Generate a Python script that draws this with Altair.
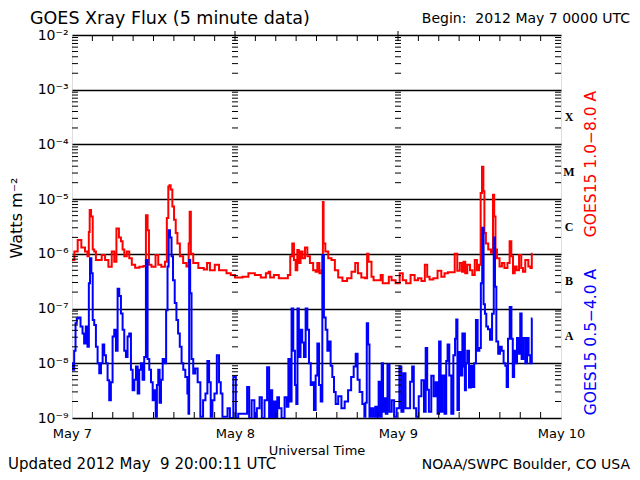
import json
import altair as alt
import pandas as pd

# ---------------- data ----------------
red_hours = [0.0, 0.1, 0.6, 1.08, 1.67, 2.16, 2.4, 2.55, 2.66, 2.95, 3.15, 3.4, 3.64, 4.13, 4.62, 5.12, 5.6, 6.1, 6.34, 6.74,
             7.08, 7.33, 7.57, 7.82, 8.3, 8.56, 9.05, 9.54, 10.28, 10.77, 11.0, 11.26, 11.4, 12.0, 12.6, 12.8, 13.5, 13.87, 14.06, 14.3,
             14.4, 14.65, 14.9, 15.15, 15.4, 15.64, 16.13, 16.6, 17.1, 17.25, 17.4, 17.6, 18.1, 19.1, 19.7, 20.07, 20.55, 21.5, 21.8, 22.5,
             23.0, 23.76, 24.25, 24.7, 25.5, 26.45, 27.4, 28.2, 28.9, 29.0, 29.36, 30.1, 30.8, 31.6, 31.97, 32.3, 32.56, 32.8, 33.05, 33.3,
             33.5, 33.8, 34.1, 34.5, 34.8, 35.26, 35.75, 36.0, 36.25, 36.6, 36.9, 36.98, 37.1, 37.5, 37.96, 38.46, 38.95, 39.44, 40.2, 40.8,
             41.5, 41.9, 42.3, 42.9, 43.4, 43.5, 43.8, 44.0, 44.2, 44.6, 45.3, 45.6, 45.9, 46.5, 46.8, 47.3, 48.0, 48.5, 48.9, 49.5,
             50.2, 50.7, 51.2, 51.7, 52.2, 52.4, 52.9, 53.5, 54.15, 54.6, 55.1, 55.6, 56.1, 56.6, 56.85, 57.35, 57.5, 57.8, 58.0, 58.4,
             58.8, 59.1, 59.5, 59.75, 60.1, 60.24, 60.5, 60.64, 60.8, 61.08, 61.5, 61.9, 62.07, 62.26, 62.45, 62.7, 63.2, 63.4, 63.93, 64.3,
             64.57, 64.8, 65.07, 65.3, 65.65, 66.0, 66.3, 66.5, 66.98, 67.4, 67.6, 67.8]
red_flux = [7.7e-7, 7.7e-7, 1.1e-6, 1.8e-6, 1.3e-6, 1.1e-6, 9e-7, 2.5e-6, 6.3e-6, 4.8e-6, 1.2e-6, 1.1e-6, 7.7e-7, 7.7e-7, 9.5e-7, 7.7e-7, 5.8e-7, 1.1e-6, 7.2e-7, 2.9e-6,
            2.0e-6, 1.7e-6, 1.2e-6, 9e-7, 1.1e-6, 8.3e-7, 6.3e-7, 5.6e-7, 5.8e-7, 6.0e-7, 5.1e-6, 2.7e-6, 6.3e-7, 5.8e-7, 9.5e-7, 6.3e-7, 5.8e-7, 7.2e-7, 4.5e-6, 1.7e-5,
            1.8e-5, 1.5e-5, 7.3e-6, 4.2e-6, 2.4e-6, 1.55e-6, 9e-7, 6.8e-7, 5.9e-7, 1.55e-6, 5.9e-6, 1.0e-6, 6.8e-7, 5.5e-7, 5.2e-7, 6.8e-7, 5.0e-7, 6.3e-7, 5.0e-7, 5.0e-7,
            4.4e-7, 4.1e-7, 3.7e-7, 3.7e-7, 3.8e-7, 4.4e-7, 4.1e-7, 3.7e-7, 4.4e-7, 4.7e-7, 3.7e-7, 4.1e-7, 3.6e-7, 3.6e-7, 4.1e-7, 9e-7, 1.55e-6, 7.7e-7, 5.0e-7, 1.18e-6,
            6.8e-7, 1.1e-6, 8.3e-7, 1.3e-6, 9e-7, 6.8e-7, 5.0e-7, 4.7e-7, 6.8e-7, 4.4e-7, 5.0e-7, 8.9e-6, 1.55e-6, 1.1e-6, 8.3e-7, 7.7e-7, 5.0e-7, 3.7e-7, 3.2e-7, 3.6e-7,
            4.7e-7, 6.8e-7, 4.4e-7, 3.7e-7, 3.6e-7, 1.0e-6, 7.2e-7, 7.2e-7, 3.8e-7, 3.3e-7, 3.3e-7, 4.1e-7, 2.9e-7, 2.9e-7, 3.8e-7, 3.3e-7, 2.9e-7, 4.4e-7, 3.3e-7, 2.9e-7,
            4.1e-7, 3.3e-7, 3.6e-7, 3.2e-7, 6.3e-7, 3.8e-7, 3.4e-7, 3.6e-7, 4.9e-7, 3.8e-7, 4.4e-7, 4.6e-7, 4.6e-7, 1.0e-6, 4.9e-7, 6.8e-7, 4.7e-7, 7.2e-7, 4.4e-7, 6.3e-7,
            5.0e-7, 4.1e-7, 7.7e-7, 5.0e-7, 6.3e-7, 1.3e-5, 3.9e-5, 1.4e-5, 2.4e-6, 1.55e-6, 1.2e-6, 1.05e-6, 1.2e-5, 4.8e-6, 1.2e-6, 8.3e-7, 5.9e-7, 6.8e-7, 5.5e-7, 6.8e-7,
            1.7e-6, 9e-7, 4.4e-7, 5.9e-7, 5.0e-7, 9.5e-7, 5.5e-7, 4.7e-7, 7.7e-7, 5.9e-7, 5.5e-7, 1.0e-6]

blue_hours = [0.0, 0.2, 0.44, 0.6, 0.8, 1.08, 1.43, 1.67, 1.9, 2.16, 2.4, 2.56, 2.75, 2.95, 3.15, 3.4, 3.64, 3.9, 4.13, 4.4,
              4.62, 4.87, 5.12, 5.36, 5.6, 5.85, 6.1, 6.34, 6.6, 6.83, 7.08, 7.33, 7.57, 7.82, 8.06, 8.3, 8.56, 8.8, 9.05, 9.3,
              9.54, 9.8, 10.0, 10.28, 10.5, 10.77, 11.0, 11.26, 11.5, 11.76, 12.0, 12.25, 12.4, 12.6, 12.8, 13.0, 13.2, 13.5, 13.75, 13.97,
              14.16, 14.3, 14.56, 14.75, 15.0, 15.25, 15.5, 15.74, 16.0, 16.27, 16.5, 16.87, 17.1, 17.2, 17.3, 17.5, 17.7, 18.0, 18.3, 18.7,
              19.1, 19.5, 19.8, 20.07, 20.3, 20.55, 20.8, 21.15, 21.5, 21.8, 22.0, 22.3, 22.8, 23.0, 23.5, 24.0, 24.25, 24.7, 25.2, 25.6,
              25.97, 26.2, 26.7, 27.0, 27.44, 27.8, 28.1, 28.6, 28.85, 29.2, 29.36, 29.6, 29.85, 30.1, 30.35, 30.6, 31.1, 31.5, 31.75, 31.97,
              32.2, 32.46, 32.7, 32.95, 33.1, 33.3, 33.5, 33.8, 34.0, 34.3, 34.5, 34.8, 35.0, 35.3, 35.5, 35.75, 36.0, 36.25, 36.5, 36.74,
              36.98, 37.2, 37.5, 37.7, 37.96, 38.2, 38.46, 38.7, 38.95, 39.44, 39.9, 40.4, 40.9, 41.3, 41.65, 41.9, 42.2, 42.5, 43.0, 43.1,
              43.3, 43.5, 43.7, 43.9, 44.2, 44.5, 44.8, 45.0, 45.3, 45.5, 45.7, 45.9, 46.1, 46.3, 46.6, 46.9, 47.25, 47.6, 48.0, 48.4,
              48.6, 49.0, 49.2, 49.6, 49.97, 50.2, 50.45, 50.9, 51.2, 51.7, 51.95, 52.2, 52.4, 52.7, 53.1, 53.4, 53.7, 53.95, 54.15, 54.4,
              54.7, 55.0, 55.2, 55.4, 55.7, 56.0, 56.3, 56.5, 56.65, 56.85, 57.1, 57.35, 57.6, 57.7, 57.8, 57.9, 58.1, 58.3, 58.6, 58.9,
              59.1, 59.35, 59.6, 59.85, 60.1, 60.3, 60.5, 60.7, 60.9, 61.1, 61.4, 61.7, 62.0, 62.2, 62.36, 62.6, 62.9, 63.15, 63.4, 63.7,
              63.9, 64.1, 64.3, 64.6, 64.8, 65.0, 65.2, 65.4, 65.65, 65.9, 66.1, 66.3, 66.6, 66.9, 67.1, 67.35, 67.6, 67.8]
blue_flux = [1.0e-8, 7.6e-9, 1.7e-8, 5.4e-8, 6.6e-8, 6.9e-8, 4.7e-8, 3.5e-8, 2.3e-8, 4.7e-8, 2.0e-8, 2.9e-7, 8.3e-7, 4.4e-7, 6.2e-8, 5.0e-8, 2.0e-8, 1.0e-8, 6.6e-9, 1.0e-8,
             2.2e-8, 1.4e-8, 1.0e-8, 4.9e-9, 2.1e-9, 4.5e-9, 3.1e-8, 4.1e-8, 1.7e-8, 2.3e-7, 1.7e-7, 8.1e-8, 4.1e-8, 1.7e-8, 1.3e-8, 3.1e-8, 3.5e-8, 7.6e-9, 3.2e-9, 5.0e-9,
             8.7e-9, 2.8e-9, 7.6e-9, 1.0e-8, 5.0e-9, 1.3e-8, 7.7e-7, 1.2e-8, 7.6e-9, 4.5e-9, 2.1e-9, 3.2e-9, 1.05e-9, 4.0e-9, 7.6e-9, 1.9e-9, 5.0e-9, 1.2e-8, 1.0e-8, 9.3e-8,
             5.9e-7, 2.7e-6, 2.0e-6, 9e-7, 3.3e-7, 1.26e-7, 6.2e-8, 3.5e-8, 2.0e-8, 1.0e-8, 7.6e-9, 5.6e-9, 2.8e-9, 1.2e-9, 7.7e-7, 1.9e-7, 1.2e-8, 6.5e-9, 8.0e-9, 4.5e-9,
             1.05e-9, 2.1e-9, 2.8e-9, 1.1e-8, 4.5e-9, 1.05e-9, 2.1e-9, 2.8e-9, 1.4e-8, 4.5e-9, 2.8e-9, 1.05e-9, 1.05e-9, 1.5e-9, 1.0e-9, 5.6e-9, 1.0e-9, 1.2e-9, 1.2e-9, 1.2e-9,
             3.7e-9, 1.0e-9, 2.1e-9, 1.0e-9, 1.5e-9, 2.4e-9, 1.0e-9, 2.1e-9, 8.5e-9, 1.0e-9, 3.2e-9, 1.0e-9, 2.0e-9, 1.0e-9, 2.4e-9, 1.5e-9, 1.0e-9, 2.4e-9, 1.6e-9, 1.2e-8,
             2.0e-9, 1.0e-7, 1.7e-8, 4.0e-9, 1.8e-9, 1.0e-7, 1.3e-8, 4.1e-8, 2.4e-8, 1.3e-8, 1.0e-7, 4.1e-8, 1.0e-8, 4.0e-9, 4.5e-9, 1.4e-9, 6.0e-9, 2.3e-8, 4.0e-9, 2.0e-9,
             9.5e-7, 6.9e-8, 4.1e-8, 1.7e-8, 2.5e-8, 9.0e-9, 5.6e-9, 3.0e-9, 1.8e-9, 2.5e-9, 1.5e-9, 2.0e-9, 3.2e-9, 5.6e-9, 8.7e-9, 1.5e-8, 5.0e-9, 3.0e-9, 1.8e-9, 1.05e-9,
             1.9e-9, 5.4e-8, 2.2e-8, 1.05e-9, 1.5e-9, 1.05e-9, 1.6e-9, 1.05e-9, 4.6e-9, 1.05e-9, 1.0e-8, 1.3e-9, 2.3e-9, 1.2e-9, 9.5e-9, 1.3e-9, 2.1e-9, 1.05e-9, 1.5e-9, 8.7e-9,
             1.3e-9, 6.6e-9, 1.5e-9, 1.5e-9, 4.6e-9, 8.7e-9, 1.5e-9, 1.05e-9, 2.5e-9, 4.9e-9, 1.3e-9, 1.9e-8, 3.3e-9, 1.3e-9, 5.9e-9, 2.5e-9, 4.5e-9, 1.2e-9, 2.5e-8, 1.3e-9,
             6.0e-9, 1.2e-9, 1.1e-8, 2.2e-8, 6.0e-9, 1.2e-9, 1.4e-8, 2.8e-8, 6.3e-8, 1.4e-9, 1.6e-8, 6.0e-9, 3.5e-8, 8.7e-9, 3.5e-8, 3.2e-9, 1.0e-8, 1.7e-8, 3.6e-9, 9.0e-9,
             3.7e-9, 1.0e-8, 6.2e-8, 1.7e-8, 1.9e-8, 2.9e-7, 3.0e-6, 1.2e-7, 8.0e-8, 4.7e-8, 4.2e-8, 2.7e-8, 8.0e-8, 2.0e-6, 2.5e-7, 2.5e-8, 1.5e-8, 2.0e-8, 1.7e-8, 1.0e-8,
             9.0e-9, 3.7e-9, 2.8e-8, 1.07e-7, 2.8e-8, 5.6e-9, 1.7e-8, 1.0e-8, 2.9e-8, 1.5e-8, 8.1e-8, 1.2e-8, 2.9e-8, 1.0e-8, 2.9e-8, 1.4e-8, 1.0e-8, 6.6e-8]

day_labels = ["May 7", "May 8", "May 9", "May 10"]
day_hours = [0, 24, 48, 72]
decade_labels = ["10\u207b\u2079", "10\u207b\u2078", "10\u207b\u2077", "10\u207b\u2076",
                 "10\u207b\u2075", "10\u207b\u2074", "10\u207b\u00b3", "10\u207b\u00b2"]
decade_values = [1e-9, 1e-8, 1e-7, 1e-6, 1e-5, 1e-4, 1e-3, 1e-2]
class_letters = ["A", "B", "C", "M", "X"]
class_positions = [10 ** -7.5, 10 ** -6.5, 10 ** -5.5, 10 ** -4.5, 10 ** -3.5]

NB = "\u00a0"
title_text = "GOES Xray Flux (5 minute data)"
begin_text = "Begin:" + NB + NB + "2012 May 7 0000 UTC"
updated_text = "Updated 2012 May" + NB + NB + "9 20:00:11 UTC"
credit_text = "NOAA/SWPC Boulder, CO USA"
long_label = "GOES15 1.0\u22128.0 A"
short_label = "GOES15 0.5\u22124.0 A"
RED = "#ff0000"
BLUE = "#0000ff"
FONT = "DejaVu Sans"

# ---------------- frames ----------------
red_df = pd.DataFrame({"h": red_hours, "f": red_flux})
blue_df = pd.DataFrame({"h": blue_hours, "f": blue_flux})

minor_vals = [k * d for d in decade_values[:-1] for k in range(2, 10)]
left_ticks = pd.DataFrame({"h": [0] * len(minor_vals), "f": minor_vals})
right_ticks = pd.DataFrame({"h": [72] * len(minor_vals), "f": minor_vals})
mid_ticks = pd.DataFrame({"h": [24] * len(minor_vals) + [48] * len(minor_vals), "f": minor_vals * 2})
hour_marks = list(range(3, 72, 3))
top_ticks = pd.DataFrame({"h": hour_marks, "f": [1e-2] * len(hour_marks)})
bot_ticks = pd.DataFrame({"h": hour_marks, "f": [1e-9] * len(hour_marks)})
day_top = pd.DataFrame({"h": day_hours[1:3], "f": [1e-2, 1e-2]})
class_df = pd.DataFrame({"c": class_letters, "f": class_positions})

xscale = alt.Scale(domain=[0, 72], nice=False, zero=False)
yscale = alt.Scale(type="log", domain=[1e-9, 1e-2], nice=False)

label_expr_x = json.dumps(day_labels) + "[round(datum.value/24)]"
label_expr_y = json.dumps(decade_labels, ensure_ascii=False) + "[round(log(datum.value)/LN10)+9]"

xaxis = alt.Axis(values=day_hours, labelExpr=label_expr_x, ticks=False, domain=False, grid=False,
                 labelFont=FONT, labelFontSize=13, labelColor="black", labelPadding=9,
                 title="Universal Time", titleFont=FONT, titleFontSize=13, titleFontWeight="normal",
                 titleColor="black", titlePadding=4, labelFlush=False)
yaxis = alt.Axis(values=decade_values, labelExpr=label_expr_y, ticks=False, domain=False, grid=True,
                 gridColor="black", gridWidth=1.5, gridOpacity=1,
                 labelFont=FONT, labelFontSize=14, labelColor="black", labelPadding=4, title=None)


def X():
    return alt.X("h:Q", scale=xscale, axis=xaxis)


def Y():
    return alt.Y("f:Q", scale=yscale, axis=yaxis)


red_line = alt.Chart(red_df).mark_line(color=RED, strokeWidth=2, clip=True, interpolate="step").encode(x=X(), y=Y())
blue_line = alt.Chart(blue_df).mark_line(color=BLUE, strokeWidth=2, clip=True, interpolate="step").encode(x=X(), y=Y())

tk = dict(color="black", thickness=1, opacity=1)
lt = alt.Chart(left_ticks).mark_tick(orient="horizontal", size=6, xOffset=3, **tk).encode(x=X(), y=Y())
rt = alt.Chart(right_ticks).mark_tick(orient="horizontal", size=6, xOffset=-3, **tk).encode(x=X(), y=Y())
mt = alt.Chart(mid_ticks).mark_tick(orient="horizontal", size=6, **tk).encode(x=X(), y=Y())
tt = alt.Chart(top_ticks).mark_tick(orient="vertical", size=6, yOffset=3, **tk).encode(x=X(), y=Y())
bt = alt.Chart(bot_ticks).mark_tick(orient="vertical", size=6, yOffset=-3, **tk).encode(x=X(), y=Y())
dt = alt.Chart(day_top).mark_tick(orient="vertical", size=4, yOffset=-2, **tk).encode(x=X(), y=Y())

classes = alt.Chart(class_df).mark_text(font="Liberation Serif", fontWeight="bold", fontSize=12,
                                         color="black", align="center", baseline="middle").encode(
    x=alt.value(497), y=Y(), text="c:N")


def label(txt, x, y, size, color="black", align="left", angle=0, baseline="alphabetic"):
    return alt.Chart(pd.DataFrame({"t": [txt]})).mark_text(
        font=FONT, fontSize=size, color=color, align=align, baseline=baseline, angle=angle
    ).encode(x=alt.value(x), y=alt.value(y), text="t:N")


texts = [
    label(title_text, -42, -11, 17.5),
    label(begin_text, 558, -12.5, 14, align="right"),
    label("Watts m\u207b\u00b2", -55, 183, 16, align="center", angle=270, baseline="middle"),
    label(long_label, 519, 129, 15.5, color=RED, align="center", angle=270, baseline="middle"),
    label(short_label, 519, 307, 15.5, color=BLUE, align="center", angle=270, baseline="middle"),
    label(updated_text, -64, 434, 15),
    label(credit_text, 558, 434, 14, align="right"),
]

chart = alt.layer(red_line, blue_line, lt, rt, mt, tt, bt, dt, classes, *texts).properties(
    width=489, height=383,
    autosize=alt.AutoSizeParams(type="none"),
    padding={"left": 64, "top": 27, "right": 70, "bottom": 54},
).configure_view(stroke="black", strokeWidth=1.5).configure(background="white")

chart.save("out.html", embed_options={"renderer": "svg", "actions": False})
